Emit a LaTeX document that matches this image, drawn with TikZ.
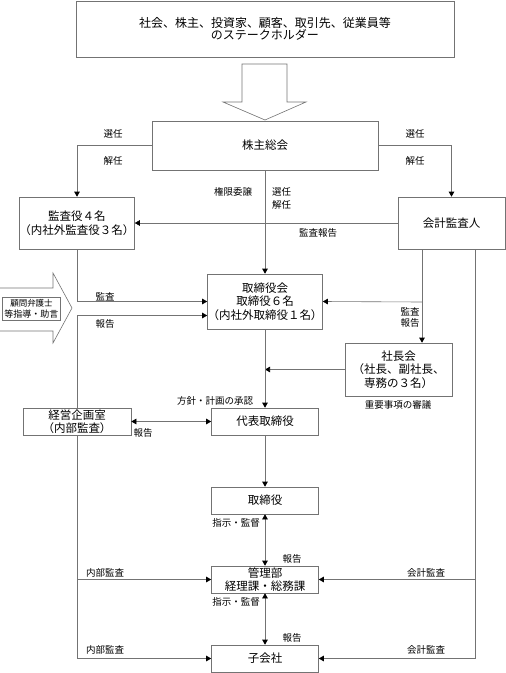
\documentclass[tikz,border=0pt]{standalone}
\usepackage{fontspec}
\setmainfont{Noto Sans CJK JP}
\usetikzlibrary{arrows.meta, calc}

\begin{document}
\begin{tikzpicture}[x=1pt, y=-1pt,
  box/.style={draw=black!55, line width=0.6pt, align=center, inner sep=0pt,
              font=\fontsize{11.5}{13.5}\selectfont},
  colbox/.style={box, minimum width=107, minimum height=27},
  lbl/.style={font=\fontsize{9.5}{11.5}\selectfont, inner sep=0pt, align=center},
  link/.style={draw=black!55, line width=0.6pt},
  arr/.style={link, -{Triangle[length=5pt, width=5.5pt, color=black]}},
  dbl/.style={link, {Triangle[length=5pt, width=5.5pt, color=black]}-{Triangle[length=5pt, width=5.5pt, color=black]}}]
  \useasboundingbox (0,0) rectangle (506,673);

  % Stakeholders
  \node[box, minimum width=378, minimum height=56, font=\fontsize{12}{12.5}\selectfont]
    (stake) at (265,29) {社会、株主、投資家、顧客、取引先、従業員等\\のステークホルダー};
  \draw[link] (242,64) -- (287,64) -- (287,102) -- (306,102) -- (265,120)
              -- (223,102) -- (242,102) -- cycle; % big arrow

  % Boxes
  \node[box, minimum width=226, minimum height=49] (soukai) at (265,145.5) {株主総会};
  \node[box, minimum width=108, minimum height=52] (kansa) at (77,223) {監査役４名\\（内社外監査役３名）};
  \node[box, minimum width=107, minimum height=52] (kaikei) at (451.5,223) {会計監査人};
  \node[box, minimum width=107, minimum height=55] (torikai) at (265,301.5) {取締役会\\取締役６名\\（内社外取締役１名）};
  \node[box, minimum width=107, minimum height=53] (shacho) at (398.5,369.5) {社長会\\（社長、副社長、\\専務の３名）};
  \node[box, minimum width=108, minimum height=27] (keiei) at (77,421.5) {経営企画室\\（内部監査）};
  \node[colbox] (daihyo) at (265,421.5) {代表取締役};
  \node[colbox] (torishima) at (265,500.5) {取締役};
  \node[colbox] (kanri) at (265,579.5) {管理部\\経理課・総務課};
  \node[colbox] (kogai) at (265,658.5) {子会社};

  % Advisor
  \draw[link] (0,288) -- (53,288) -- (53,273) -- (72,308) -- (53,343) -- (53,331) -- (0,331);
  \node[box, minimum width=58, minimum height=23, font=\fontsize{9}{10.5}\selectfont]
    (advisor) at (31.5,309) {{\fontsize{8.5}{10}\selectfont 顧問弁護士}\\等指導・助言};

  % Coordinates
  \coordinate (kr1) at (422,302);
  \coordinate (kr2) at (475,302);

  % Connectors
  \draw[arr] (soukai.west) -| (kansa.north);
  \draw[arr] (soukai.east) -| (kaikei.north);
  \draw[arr] (soukai.south) -- (torikai.north);
  \draw[arr] (kaikei.west) -- (kansa.east);
  \draw[arr] (kansa.south) |- (torikai.west);
  \draw[arr] (keiei.north) |- ([yshift=-14pt]torikai.west);
  \draw[arr] (kr1) -- (torikai.east);
  \draw[arr] (kaikei.south -| kr1) -- (kr1 |- shacho.north);
  \draw[arr] (kaikei.south -| kr2) |- (kogai.east);
  \draw[arr] (kr2 |- kanri.east) -- (kanri.east);
  \draw[arr] (shacho.west) -- (shacho.west -| torikai.south);
  \draw[arr] (torikai.south) -- (daihyo.north);
  \draw[dbl] (keiei.east) -- (daihyo.west);
  \draw[arr] (daihyo.south) -- (torishima.north);
  \draw[dbl] (torishima.south) -- (kanri.north);
  \draw[dbl] (kanri.south) -- (kogai.north);
  \draw[arr] (keiei.south) |- (kogai.west);
  \draw[arr] (keiei.south |- kanri.west) -- (kanri.west);

  % Labels
  \node[lbl] (l1) at (113,134) {選任};
  \node[lbl] (l2) at (113,161) {解任};
  \node[lbl] (l3) at (415,134) {選任};
  \node[lbl] (l4) at (415,161) {解任};
  \node[lbl] (l5) at (233,192) {権限委譲};
  \node[lbl, anchor=west] (l6) at (272,192) {選任};
  \node[lbl, anchor=west] (l7) at (272,205) {解任};
  \node[lbl] (l8) at (318,233) {監査報告};
  \node[lbl] (l9) at (105,297) {監査};
  \node[lbl] (l10) at (105,324) {報告};
  \node[lbl] (l11) at (410,317.5) {監査\\報告};
  \node[lbl] (l12) at (398,405) {重要事項の審議};
  \node[lbl] (l13) at (215,401) {方針・計画の承認};
  \node[lbl] (l14) at (143,433) {報告};
  \node[lbl] (l15) at (236,523) {指示・監督};
  \node[lbl] (l16) at (292,559) {報告};
  \node[lbl] (l17) at (236,602) {指示・監督};
  \node[lbl] (l18) at (292,638) {報告};
  \node[lbl] (l19) at (105,573) {内部監査};
  \node[lbl] (l20) at (105,650) {内部監査};
  \node[lbl] (l21) at (426,573) {会計監査};
  \node[lbl] (l22) at (426,650) {会計監査};
\end{tikzpicture}
\end{document}
